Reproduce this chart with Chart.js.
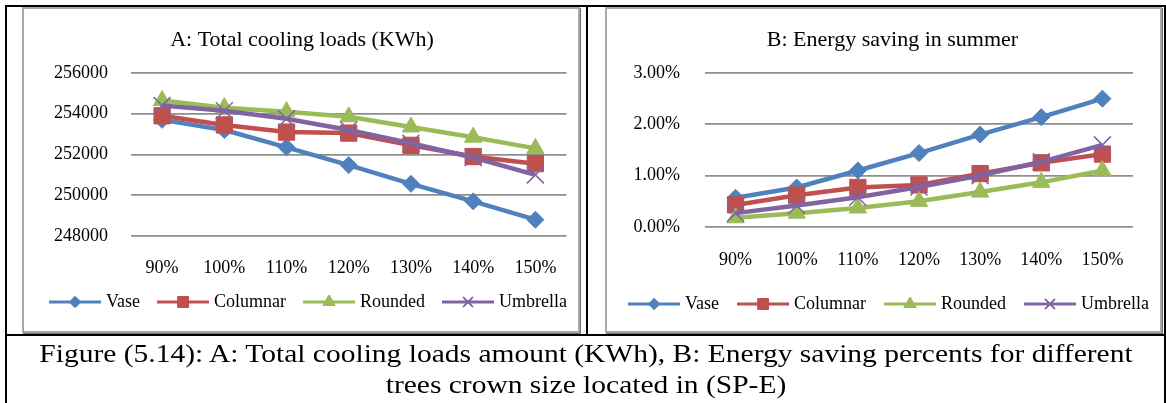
<!DOCTYPE html>
<html>
<head>
<meta charset="utf-8">
<script src="https://cdn.jsdelivr.net/npm/chart.js@4.4.1/dist/chart.umd.min.js"></script>
<style>
  body { margin: 0; background: #fff; width: 1166px; height: 403px; overflow: hidden; position: relative; font-family: 'Times New Roman', 'Liberation Serif', serif; }
  .rule { position: absolute; background: #000; }
  .frame { position: absolute; box-sizing: border-box; border: 2px solid #a8a8a8; box-shadow: 1px 1px 0 #707070; background: #fff; }
  .plot { position: absolute; }
  .caption { position: absolute; left: 5px; top: 338px; width: 1162px; text-align: center; font-size: 25px; line-height: 31px; color: #000; transform: scaleX(1.18); transform-origin: center top; }
</style>
</head>
<body>
<div class="rule" style="left:5px;top:5px;width:1161px;height:2px"></div>
<div class="rule" style="left:5px;top:5px;width:2px;height:398px"></div>
<div class="rule" style="left:1164px;top:5px;width:2px;height:398px"></div>
<div class="rule" style="left:586px;top:5px;width:2px;height:331px"></div>
<div class="rule" style="left:5px;top:334px;width:1161px;height:2px"></div>

<div class="frame" style="left:22px;top:7px;width:558px;height:326px"></div>
<div class="frame" style="left:605px;top:7px;width:557px;height:326px"></div>

<div class="plot" style="left:24px;top:9px;width:556px;height:335px"><canvas id="chartA"></canvas></div>
<div class="plot" style="left:607px;top:9px;width:571px;height:335px"><canvas id="chartB"></canvas></div>

<div class="caption">Figure (5.14): A: Total cooling loads amount (KWh), B: Energy saving percents for different<br>trees crown size located in (SP-E)</div>

<script>
// crown size categories
const crownSizes = ['90%', '100%', '110%', '120%', '130%', '140%', '150%'];
const seriesNames = ['Vase', 'Columnar', 'Rounded', 'Umbrella'];

// A: total cooling loads (KWh)
const loadVase = [253700, 253200, 252350, 251480, 250560, 249700, 248800];
const loadColumnar = [253900, 253450, 253100, 253050, 252450, 251900, 251550];
const loadRounded = [254650, 254300, 254100, 253850, 253350, 252850, 252300];
const loadUmbrella = [254400, 254150, 253750, 253200, 252550, 251850, 251000];
const loadTicks = [248000, 250000, 252000, 254000, 256000];

// B: energy saving in summer (%)
const saveVase = [0.57, 0.77, 1.10, 1.44, 1.80, 2.14, 2.50];
const saveColumnar = [0.43, 0.62, 0.77, 0.82, 1.04, 1.25, 1.42];
const saveRounded = [0.18, 0.27, 0.37, 0.50, 0.68, 0.87, 1.10];
const saveUmbrella = [0.27, 0.42, 0.58, 0.78, 1.00, 1.27, 1.60];
const saveTicks = [0, 1, 2, 3];

const colors = ['#4f81bd', '#c0504d', '#9bbb59', '#8064a2'];
const markers = ['rectRot', 'rect', 'triangle', 'crossRot'];
const markerSize = [8.5, 11.5, 10, 12];
const legendMarkerSize = [5.5, 7.5, 7, 7];

Chart.defaults.font.family = "'Times New Roman', 'Liberation Serif', serif";
Chart.defaults.color = '#000';

// legend icon: 52px line with the marker in the middle.
// shift = where the line starts relative to the legend item's x
function legendIcon(i, shift) {
    const left = 24 - shift / 2, right = 28 + shift / 2;
    const half = Math.max(left, right);
    const c = document.createElement('canvas');
    c.width = half * 2; c.height = 20;
    const g = c.getContext('2d');
    const x0 = half - left;
    g.strokeStyle = colors[i];
    g.lineWidth = 3;
    g.beginPath(); g.moveTo(x0, 10); g.lineTo(x0 + 52, 10); g.stroke();
    g.fillStyle = colors[i];
    g.lineWidth = i === 3 ? 1.5 : 1;
    Chart.helpers.drawPoint(g, { pointStyle: markers[i], radius: legendMarkerSize[i], rotation: 0, borderWidth: g.lineWidth }, x0 + 26, 10);
    if (markers[i] !== 'crossRot') g.fill();
    g.stroke();
    return c;
}

function makeDatasets(values) {
    return values.map((v, i) => ({
        label: seriesNames[i],
        data: v,
        yAxisID: 'y',
        borderColor: colors[i],
        backgroundColor: colors[i],
        borderWidth: 4.5,
        tension: 0,
        pointStyle: markers[i],
        pointRadius: markerSize[i],
        pointHoverRadius: markerSize[i],
        pointBackgroundColor: colors[i],
        pointBorderColor: colors[i],
        pointBorderWidth: i === 3 ? 1.5 : 1,
        order: 4 - i
    }));
}

function makeChart(id, title, values, ticks, fmt, cfg) {
    const icons = seriesNames.map((n, i) => legendIcon(i, cfg.iconShift));
    return new Chart(document.getElementById(id), {
        type: 'line',
        data: { labels: crownSizes, datasets: makeDatasets(values) },
        options: {
            responsive: true,
            maintainAspectRatio: false,
            animation: false,
            layout: { padding: { left: 0, right: 0, top: 0, bottom: cfg.padBottom } },
            plugins: {
                title: {
                    display: true,
                    text: title,
                    font: { size: 22, weight: 'normal' },
                    padding: { top: 18, bottom: 19.6 }
                },
                legend: {
                    position: 'bottom',
                    labels: {
                        usePointStyle: true,
                        pointStyleWidth: 48 + cfg.iconShift,
                        padding: cfg.legendPad,
                        font: { size: 18 },
                        generateLabels: () => seriesNames.map((n, i) => ({
                            text: n, pointStyle: icons[i], fillStyle: colors[i],
                            strokeStyle: colors[i], lineWidth: 0, datasetIndex: i, hidden: false
                        }))
                    }
                },
                tooltip: { enabled: false }
            },
            scales: {
                x: {
                    offset: true,
                    grid: { display: false, drawTicks: false },
                    border: { display: false },
                    ticks: { font: { size: 18 }, padding: cfg.xPad, maxRotation: 0 },
                    afterFit: s => { s.height = cfg.xHeight; }
                },
                y: {
                    min: ticks[0],
                    max: ticks[ticks.length - 1],
                    afterBuildTicks: s => { s.ticks = ticks.map(v => ({ value: v })); },
                    grid: { color: '#8e8e8e', lineWidth: 1.8, drawTicks: false },
                    border: { display: false },
                    ticks: { font: { size: 18 }, padding: cfg.yPad, callback: fmt },
                    afterFit: s => { s.width = cfg.yWidth; }
                },
                y2: {
                    position: 'right',
                    display: true,
                    grid: { display: false, drawTicks: false },
                    border: { display: false },
                    ticks: { display: false },
                    afterFit: s => { s.width = cfg.y2Width; }
                }
            }
        }
    });
}

makeChart('chartA', 'A: Total cooling loads (KWh)',
    [loadVase, loadColumnar, loadRounded, loadUmbrella], loadTicks,
    v => String(v),
    { padBottom: 23, legendPad: 5, iconShift: 12, xPad: 21, xHeight: 52, yPad: 23, yWidth: 107, y2Width: 13 });

makeChart('chartB', 'B: Energy saving in summer',
    [saveVase, saveColumnar, saveRounded, saveUmbrella], saveTicks,
    v => v.toFixed(2) + '%',
    { padBottom: 21, legendPad: 26, iconShift: -8, xPad: 22.2, xHeight: 42, yPad: 25, yWidth: 98, y2Width: 45 });
</script>
</body>
</html>
